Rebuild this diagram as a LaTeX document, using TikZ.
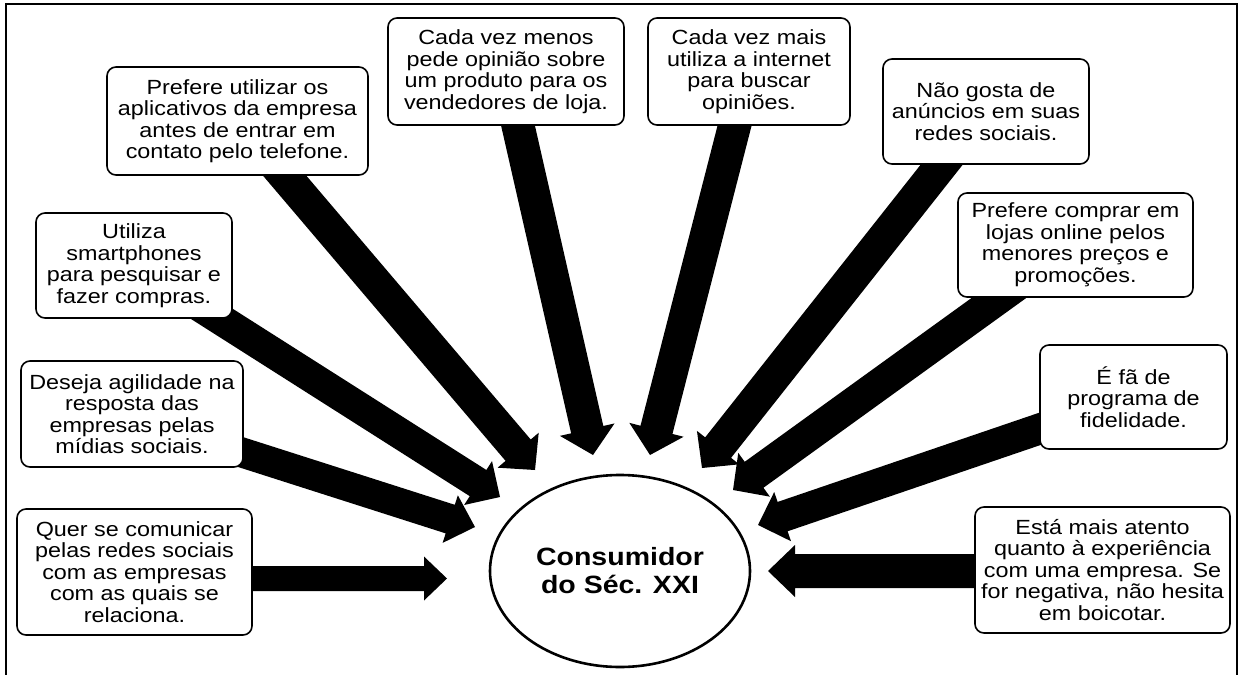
\documentclass[tikz,border=0pt]{standalone}
\usepackage{fontspec}
\setmainfont{Liberation Sans}[FakeStretch=1.14]
\usetikzlibrary{calc,backgrounds,shapes.geometric}

% #1 start, #2 tip, #3 half shaft, #4 half head, #5 head length
\newcommand{\blockarrow}[5]{%
  \path ($(#2)!#5!(#1)$) coordinate (hb);
  \fill[shaft] ($(#1)!#3!90:(#2)$) -- ($(hb)!#3!90:(#2)$) -- ($(hb)!#4!90:(#2)$)
    -- (#2) -- ($(hb)!#4!-90:(#2)$) -- ($(hb)!#3!-90:(#2)$) -- ($(#1)!#3!-90:(#2)$) -- cycle;}

\begin{document}
\begin{tikzpicture}[x=1pt,y=-1pt,
  font=\fontsize{20.5}{21.5}\selectfont,
  note/.style={draw,line width=1.6pt,rounded corners=9pt,fill=white,
    align=center,inner sep=2pt},
  hub/.style={ellipse,draw,line width=2.6pt,fill=white,align=center,inner sep=0pt,
    font=\fontsize{25}{28}\selectfont\bfseries,minimum width=260pt,minimum height=192pt},
  edgeline/.style={line width=2pt},
  shaft/.style={fill=black}]
  \useasboundingbox (0,0) rectangle (1243,675);
  \draw[edgeline] (6,675) -- (6,4) -- (1236.5,4) -- (1236.5,675);

  % centre
  \node[hub] (consumidor) at (620,571) {Consumidor\\do Séc. XXI};

  % boxes
  \node[note,minimum width=261pt,minimum height=108pt] (aplic) at (237.5,121)
    {Prefere utilizar os\\aplicativos da empresa\\antes de entrar em\\contato pelo telefone.};
  \node[note,minimum width=236pt,minimum height=107pt] (menos) at (506,71.5)
    {Cada vez menos\\pede opinião sobre\\um produto para os\\vendedores de loja.};
  \node[note,minimum width=202pt,minimum height=107pt] (mais) at (749,71.5)
    {Cada vez mais\\utiliza a internet\\para buscar\\opiniões.};
  \node[note,minimum width=206pt,minimum height=105pt] (anuncios) at (986,111.5)
    {Não gosta de\\anúncios em suas\\redes sociais.};
  \node[note,minimum width=235pt,minimum height=104pt] (online) at (1075.5,245)
    {Prefere comprar em\\lojas online pelos\\menores preços e\\promoções.};
  \node[note,minimum width=187pt,minimum height=104pt] (fidelidade) at (1133.5,397)
    {É fã de\\programa de\\fidelidade.};
  \node[note,minimum width=255pt,minimum height=126pt] (boicote) at (1102.5,570)
    {Está mais atento\\quanto à experiência\\com uma empresa. Se\\for negativa, não hesita\\em boicotar.};
  \node[note,minimum width=196pt,minimum height=105pt] (smart) at (134,265.5)
    {Utiliza\\smartphones\\para pesquisar e\\fazer compras.};
  \node[note,minimum width=222pt,minimum height=106pt] (agil) at (132,414)
    {Deseja agilidade na\\resposta das\\empresas pelas\\mídias sociais.};
  \node[note,minimum width=235pt,minimum height=126pt] (redes) at (134.5,572)
    {Quer se comunicar\\pelas redes sociais\\com as empresas\\com as quais se\\relaciona.};

  % arrow ends
  \coordinate (s-aplic) at ($(aplic.south)+(34.5,-15)$);
  \coordinate (t-aplic) at (535,470);
  \coordinate (s-menos) at ($(menos.south)+(7.6,-19.5)$);
  \coordinate (t-menos) at (593,455);
  \coordinate (s-mais) at ($(mais.south)+(-9.5,-19.4)$);
  \coordinate (t-mais) at (650,455);
  \coordinate (s-anuncios) at ($(anuncios.south)+(-32,-15.7)$);
  \coordinate (t-anuncios) at (702,468);
  \coordinate (s-online) at ($(online.south)+(-56,-14.7)$);
  \coordinate (t-online) at (733,490);
  \coordinate (s-fidelidade) at ($(fidelidade.west)+(19,25.6)$);
  \coordinate (t-fidelidade) at (758,525);
  \coordinate (s-boicote) at ($(boicote.west)+(20,1)$);
  \coordinate (t-boicote) at (768,571);
  \coordinate (s-smart) at ($(smart.south)+(51,-22)$);
  \coordinate (t-smart) at (500,497);
  \coordinate (s-agil) at ($(agil.east)+(-19,33)$);
  \coordinate (t-agil) at (475,527);
  \coordinate (s-redes) at ($(redes.east)+(-12,6.5)$);
  \coordinate (t-redes) at (447,578.5);

  \begin{scope}[on background layer]
    \blockarrow{s-aplic}{t-aplic}{16.5pt}{27pt}{26pt}
    \blockarrow{s-menos}{t-menos}{16.5pt}{28pt}{26pt}
    \blockarrow{s-mais}{t-mais}{16.5pt}{28pt}{26pt}
    \blockarrow{s-anuncios}{t-anuncios}{16.5pt}{27pt}{26pt}
    \blockarrow{s-online}{t-online}{16pt}{27pt}{26pt}
    \blockarrow{s-fidelidade}{t-fidelidade}{15.5pt}{26pt}{26pt}
    \blockarrow{s-boicote}{t-boicote}{17pt}{26pt}{27pt}
    \blockarrow{s-smart}{t-smart}{15.5pt}{26pt}{26pt}
    \blockarrow{s-agil}{t-agil}{15pt}{25pt}{26pt}
    \blockarrow{s-redes}{t-redes}{12.5pt}{22pt}{23pt}
  \end{scope}
\end{tikzpicture}
\end{document}
